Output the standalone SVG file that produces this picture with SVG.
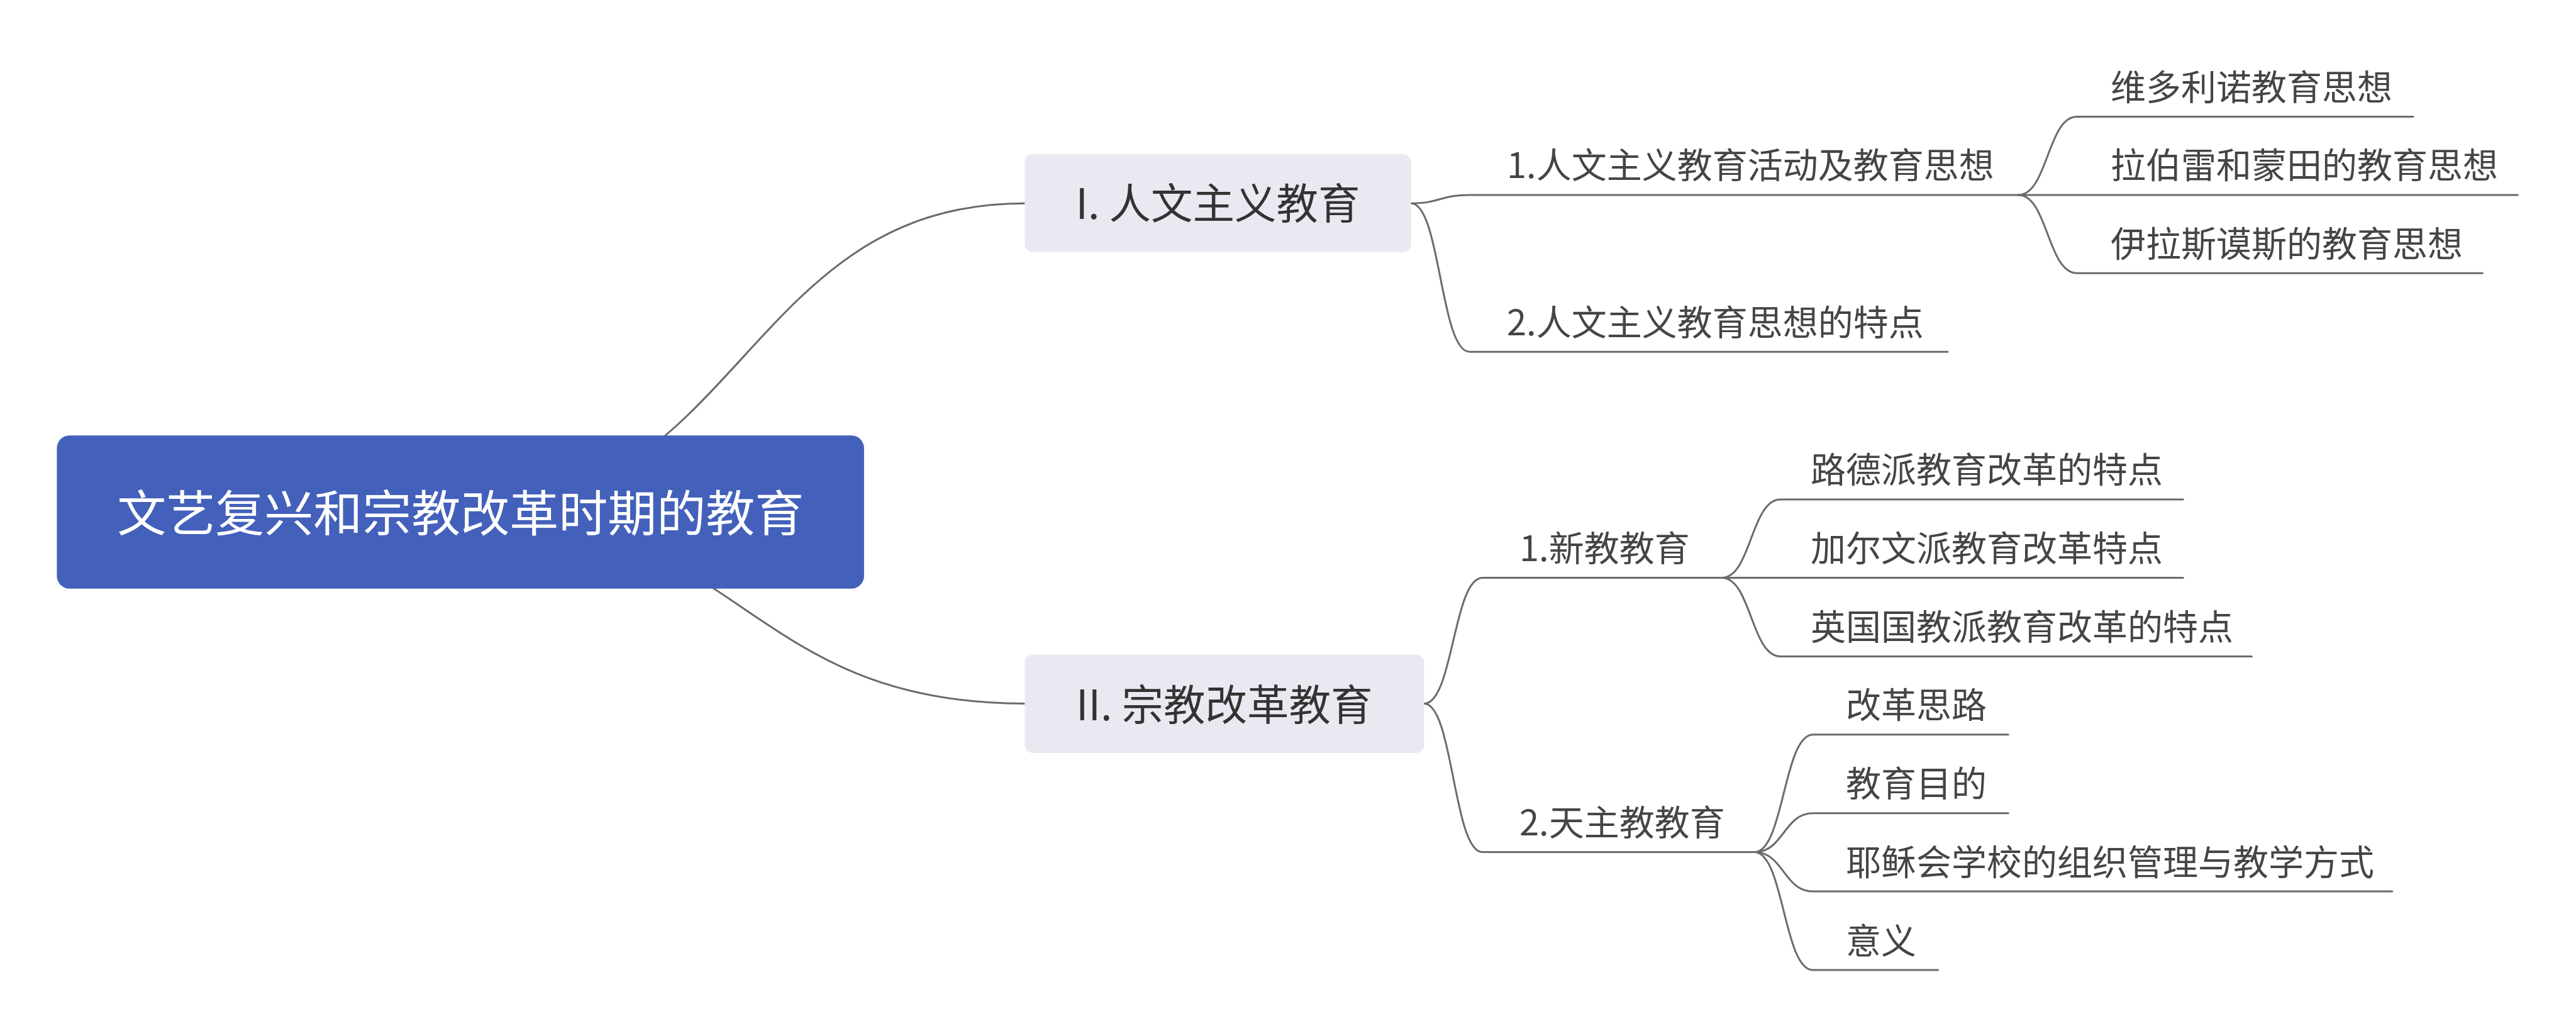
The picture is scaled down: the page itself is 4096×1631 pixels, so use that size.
<svg xmlns="http://www.w3.org/2000/svg" width="4096" height="1631" viewBox="0 0 4096 1631">
<style>
.ln{fill:none;stroke:#6b6b6b;stroke-width:3;stroke-linecap:round}
.t{font-family:"Noto Sans CJK SC","Noto Sans",sans-serif}
.root{font-size:78px;fill:#ffffff;text-anchor:middle}
.main{font-size:66.5px;fill:#333333;text-anchor:middle}
.sub{font-size:56px;fill:#454545}
</style>
<rect width="4096" height="1631" fill="#ffffff"/>
<g id="connectors">
<path class="ln" d="M732.2,814 C1180.7,814 1180.7,323.2 1629.3,323.2"/>
<path class="ln" d="M732.2,814 C1180.7,814 1180.7,1118.5 1629.3,1118.5"/>
<path class="ln" d="M2243.7,323.2 C2290.2,323.2 2290.2,309.9 2336.8,309.9 L3209.3,309.9"/>
<path class="ln" d="M2243.7,323.2 C2290.2,323.2 2290.2,559.3 2336.8,559.3 L3096.9,559.3"/>
<path class="ln" d="M2264.3,1118.5 C2310.8,1118.5 2310.8,918.4 2357.4,918.4 L2737.8,918.4"/>
<path class="ln" d="M2264.3,1118.5 C2310.8,1118.5 2310.8,1354.6 2357.4,1354.6 L2789.7,1354.6"/>
<path class="ln" d="M3209.3,309.9 C3255.8,309.9 3255.8,185.5 3302.4,185.5 L3837,185.5"/>
<path class="ln" d="M3209.3,309.9 L4003.3,309.9"/>
<path class="ln" d="M3209.3,309.9 C3255.8,309.9 3255.8,434.2 3302.4,434.2 L3947.4,434.2"/>
<path class="ln" d="M2737.8,918.4 C2784.3,918.4 2784.3,794 2830.9,794 L3471.3,794"/>
<path class="ln" d="M2737.8,918.4 L3471.3,918.4"/>
<path class="ln" d="M2737.8,918.4 C2784.3,918.4 2784.3,1043.4 2830.9,1043.4 L3580.4,1043.4"/>
<path class="ln" d="M2789.7,1354.6 C2836.2,1354.6 2836.2,1167.7 2882.8,1167.7 L3193.3,1167.7"/>
<path class="ln" d="M2789.7,1354.6 C2836.2,1354.6 2836.2,1292.8 2882.8,1292.8 L3193.3,1292.8"/>
<path class="ln" d="M2789.7,1354.6 C2836.2,1354.6 2836.2,1417.1 2882.8,1417.1 L3803.8,1417.1"/>
<path class="ln" d="M2789.7,1354.6 C2836.2,1354.6 2836.2,1542.1 2882.8,1542.1 L3081.6,1542.1"/>
</g>
<g id="root">
<rect x="90.4" y="692.3" width="1283.5" height="243.4" rx="20" fill="#4360ba"/>
<text class="t root" x="732.2" y="845">文艺复兴和宗教改革时期的教育</text>
</g>
<g id="node-1">
<rect x="1629.3" y="244.7" width="614.4" height="156.3" rx="13" fill="#e9eaf1"/>
<text class="t main" x="1936.5" y="348">I. 人文主义教育</text>
</g>
<g id="node-2">
<rect x="1629.3" y="1040.7" width="635" height="156.3" rx="13" fill="#e9eaf1"/>
<text class="t main" x="1946.8" y="1145">II. 宗教改革教育</text>
</g>
<g id="node-1-1"><text class="t sub" x="2396" y="283.3">1.人文主义教育活动及教育思想</text></g>
<g id="node-1-2"><text class="t sub" x="2396" y="532.7">2.人文主义教育思想的特点</text></g>
<g id="node-1-1-1"><text class="t sub" x="3356" y="158.9">维多利诺教育思想</text></g>
<g id="node-1-1-2"><text class="t sub" x="3356" y="283.3">拉伯雷和蒙田的教育思想</text></g>
<g id="node-1-1-3"><text class="t sub" x="3356" y="407.6">伊拉斯谟斯的教育思想</text></g>
<g id="node-2-1"><text class="t sub" x="2416" y="891.8">1.新教教育</text></g>
<g id="node-2-2"><text class="t sub" x="2416" y="1328">2.天主教教育</text></g>
<g id="node-2-1-1"><text class="t sub" x="2879" y="767.4">路德派教育改革的特点</text></g>
<g id="node-2-1-2"><text class="t sub" x="2879" y="891.8">加尔文派教育改革特点</text></g>
<g id="node-2-1-3"><text class="t sub" x="2879" y="1016.8">英国国教派教育改革的特点</text></g>
<g id="node-2-2-1"><text class="t sub" x="2935" y="1141.1">改革思路</text></g>
<g id="node-2-2-2"><text class="t sub" x="2935" y="1266.2">教育目的</text></g>
<g id="node-2-2-3"><text class="t sub" x="2935" y="1390.5">耶稣会学校的组织管理与教学方式</text></g>
<g id="node-2-2-4"><text class="t sub" x="2935" y="1515.5">意义</text></g>
</svg>
